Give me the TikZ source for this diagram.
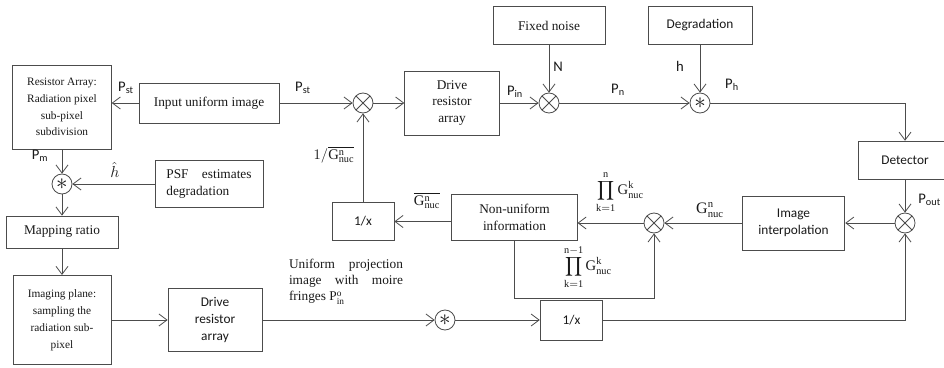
\documentclass[tikz,border=0pt]{standalone}
\usepackage{fontspec}
\setmainfont{Liberation Serif}
\setsansfont{Carlito}
\usetikzlibrary{arrows.meta}

\begin{document}
\begin{tikzpicture}[x=0.75pt, y=-0.75pt, color=black!70, line width=0.6pt,
    >={Straight Barb[length=6pt,width=9pt]},
    every node/.style={text=black!90},
    blk/.style={draw, fill=white, align=center, inner sep=1pt, font=\fontsize{10}{12.5}\selectfont},
    sansbox/.style={font=\sffamily\fontsize{10}{12.5}\selectfont},
    otimes/.style={circle, draw, fill=white, minimum size=15pt, inner sep=0pt,
      path picture={\draw (path picture bounding box.south west) -- (path picture bounding box.north east)
        (path picture bounding box.north west) -- (path picture bounding box.south east);}},
    conv/.style={circle, draw, fill=white, minimum size=15pt, inner sep=0pt, font=\fontsize{17}{17}\selectfont},
    lbl/.style={inner sep=0pt, font=\sffamily\fontsize{11}{12}\selectfont}]
        \clip (0,0) rectangle (944,367);

        % Forward path
        \node[blk, minimum width=74pt, minimum height=63pt, font=\fontsize{8.5}{12.5}\selectfont] (resarr) at (62,107) {Resistor Array:\\Radiation pixel\\sub-pixel\\subdivision};
        \node[blk, minimum width=105pt, minimum height=30pt] (input) at (209,103) {Input uniform image};
        \node[otimes] (ot1) at (363,103) {};
        \node[blk, minimum width=71pt, minimum height=48pt] (drvtop) at (452,103) {Drive\\resistor\\array};
        \node[blk, minimum width=84pt, minimum height=29pt] (noise) at (549,25.5) {Fixed noise};
        \node[otimes] (ot2) at (549,103) {};
        \node[blk, sansbox, minimum width=78pt, minimum height=29pt] (degr) at (700,25.5) {Degradation};
        \node[conv] (star1) at (700,103) {$\ast$};
        \node[blk, sansbox, minimum width=70.5pt, minimum height=29pt] (detector) at (905,160.5) {Detector};

        % Correction loop
        \node[otimes] (ot3) at (905,223) {};
        \node[blk, sansbox, minimum width=77pt, minimum height=40.5pt] (imgint) at (793.5,223) {Image\\interpolation};
        \node[otimes] (ot4) at (654,223) {};
        \node[blk, minimum width=94pt, minimum height=35pt] (nonuni) at (514.5,217.5) {Non-uniform\\information};
        \node[blk, sansbox, minimum width=46.5pt, minimum height=29pt] (recip1) at (363,221.5) {1/x};

        % Simulation chain
        \node[conv] (starl) at (62,184) {$\ast$};
        \node[blk, minimum width=81pt, minimum height=35pt, align=left] (psf) at (209,184) {PSF\quad estimates\\degradation};
        \node[blk, minimum width=84pt, minimum height=24pt] (mapping) at (62,232) {Mapping ratio};
        \node[blk, minimum width=73.5pt, minimum height=67pt, font=\fontsize{8.5}{12.75}\selectfont] (imaging) at (62,320) {Imaging plane:\\sampling the\\radiation sub-\\pixel};
        \node[blk, sansbox, minimum width=70.5pt, minimum height=47pt] (drvbot) at (215,320) {Drive\\resistor\\array};
        \node[conv] (starb) at (445,320) {$\ast$};
        \node[blk, sansbox, minimum width=47pt, minimum height=30pt] (recip2) at (571.5,320) {1/x};
        \coordinate (loop) at (654,298);

        % Labels
        \node[lbl] (pst1) at (126,88) {P\textsubscript{st}};
        \node[lbl] (pst2) at (303,88) {P\textsubscript{st}};
        \node[lbl, font=\fontsize{11}{12}\selectfont] (ginv) at (334,155) {$1/\overline{\mathrm{G}^{\mathrm{n}}_{\mathrm{nuc}}}$};
        \node[lbl] (pin) at (515,92) {P\textsubscript{in}};
        \node[lbl] (nlab) at (558,67) {N};
        \node[lbl] (pn) at (618,90) {P\textsubscript{n}};
        \node[lbl] (hlab) at (680,66) {h};
        \node[lbl] (ph) at (732,85) {P\textsubscript{h}};
        \node[lbl, anchor=west] (pout) at (918,200) {P\textsubscript{out}};
        \node[lbl, font=\fontsize{12}{12}\selectfont] (gn) at (710,210) {$\mathrm{G}^{\mathrm{n}}_{\mathrm{nuc}}$};
        \node[lbl, font=\fontsize{11}{12}\selectfont] (gbar) at (427,201) {$\overline{\mathrm{G}^{\mathrm{n}}_{\mathrm{nuc}}}$};
        \node[lbl, font=\fontsize{11}{12}\selectfont] (prodn) at (620,192) {$\displaystyle\prod_{\mathrm{k=1}}^{\mathrm{n}}\mathrm{G}^{\mathrm{k}}_{\mathrm{nuc}}$};
        \node[lbl, font=\fontsize{11}{12}\selectfont] (prodm) at (588,267) {$\displaystyle\prod_{\mathrm{k=1}}^{\mathrm{n-1}}\mathrm{G}^{\mathrm{k}}_{\mathrm{nuc}}$};
        \node[lbl] (pm) at (40,156) {P\textsubscript{m}};
        \node[lbl, font=\fontsize{13}{13}\selectfont] (hhat) at (115,170) {$\hat{h}$};
        \node[inner sep=0pt, text width=85.5pt, align=justify, font=\fontsize{10}{12}\selectfont] (moire) at (346,282) {Uniform projection image with moire fringes $\mathrm{P}^{\mathrm{o}}_{\mathrm{in}}$};

        % Connections
        \draw[->] (input.west) -- (input.west -| resarr.east);
        \draw[->] (input) -- (ot1);
        \draw[->] (ot1) -- (drvtop);
        \draw[->] (drvtop) -- (ot2);
        \draw[->] (noise) -- (ot2);
        \draw[->] (ot2) -- (star1);
        \draw[->] (degr) -- (star1);
        \draw[->] (star1) -| (detector);
        \draw[->] (detector) -- (ot3);
        \draw[->] (ot3) -- (imgint);
        \draw[->] (imgint) -- (ot4);
        \draw[->] (ot4) -- (ot4 -| nonuni.east);
        \draw[->] (nonuni.south) |- (loop) -- (ot4);
        \draw[->] (nonuni.west |- recip1) -- (recip1);
        \draw[->] (recip1) -- (ot1);
        \draw[->] (resarr) -- (starl);
        \draw[->] (psf) -- (starl);
        \draw[->] (starl) -- (mapping);
        \draw[->] (mapping) -- (imaging);
        \draw[->] (imaging) -- (drvbot);
        \draw[->] (drvbot) -- (starb);
        \draw[->] (starb) -- (recip2);
        \draw[->] (recip2) -| (ot3);
\end{tikzpicture}
\end{document}
